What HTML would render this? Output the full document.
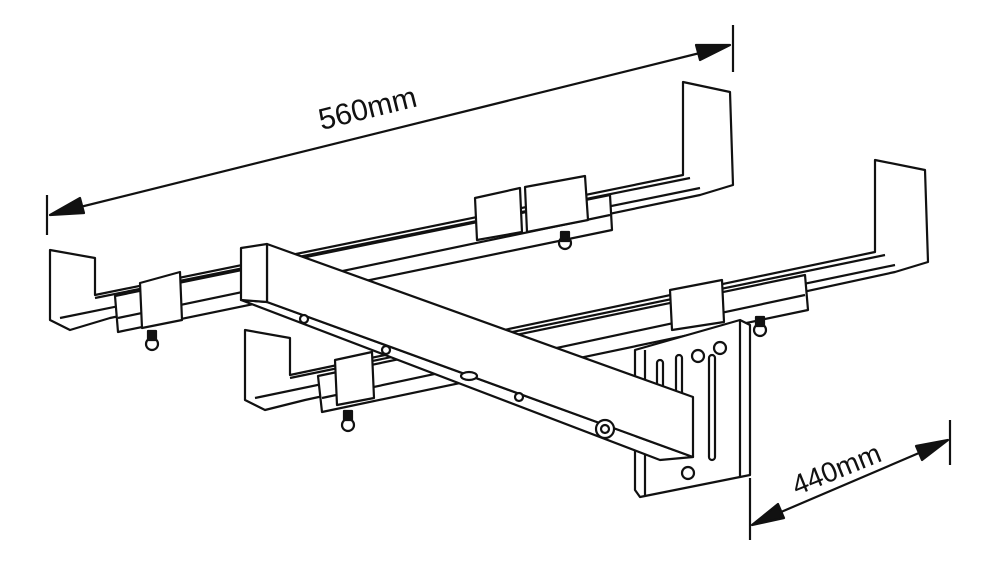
<!DOCTYPE html>
<html><head><style>html,body{margin:0;padding:0;background:#fff}svg{display:block}</style></head>
<body>
<svg width="1000" height="569" viewBox="0 0 1000 569" xmlns="http://www.w3.org/2000/svg" fill="#fff" stroke="#111" stroke-width="2.2" stroke-linejoin="round">
<!-- 560 dimension -->
<line x1="47" y1="195" x2="47" y2="235"/>
<line x1="733" y1="25" x2="733" y2="72"/>
<line x1="60" y1="212" x2="720" y2="48"/>
<polygon points="50,215 80,198 84,213" fill="#111"/>
<polygon points="730,45 700,60 696,45" fill="#111"/>
<text x="370" y="118" transform="rotate(-14 370 118)" font-family="Liberation Sans, sans-serif" font-size="30" fill="#111" stroke="none" text-anchor="middle">560mm</text>
<!-- 440 dimension -->
<line x1="750" y1="478" x2="750" y2="540"/>
<line x1="950" y1="420" x2="950" y2="465"/>
<line x1="760" y1="521" x2="940" y2="444"/>
<polygon points="752,525 778,504 784,518" fill="#111"/>
<polygon points="948,440 922,460 916,446" fill="#111"/>
<text x="840" y="478" transform="rotate(-22 840 478)" font-family="Liberation Sans, sans-serif" font-size="28" fill="#111" stroke="none" text-anchor="middle">440mm</text>
<!-- back rail -->
<polygon points="683,82 730,92 733,185 700,195 110,318 70,330 50,320 50,250 95,258 95,295 683,175"/>
<line x1="95" y1="298" x2="690" y2="178"/>
<line x1="60" y1="318" x2="700" y2="188"/>
<polygon points="115,296 610,195 612,230 118,332"/>
<line x1="118" y1="318" x2="610" y2="215"/>
<polygon points="475,198 520,188 522,232 477,240"/>
<polygon points="525,187 585,176 588,220 527,232"/>
<polygon points="140,283 180,272 182,320 142,328"/>
<circle cx="565" cy="243" r="6"/><rect x="561" y="232" width="8" height="9" fill="#111"/>
<circle cx="152" cy="344" r="6"/><rect x="148" y="331" width="8" height="9" fill="#111"/>
<!-- front rail -->
<polygon points="875,160 925,170 928,262 895,272 305,400 265,410 245,400 245,330 290,338 290,375 875,252"/>
<line x1="290" y1="378" x2="885" y2="255"/>
<line x1="255" y1="398" x2="895" y2="265"/>
<polygon points="318,376 805,275 808,310 322,412"/>
<line x1="322" y1="398" x2="805" y2="295"/>
<polygon points="670,290 722,280 724,322 672,330"/>
<polygon points="335,360 372,352 374,398 337,405"/>
<circle cx="760" cy="330" r="6"/><rect x="756" y="317" width="8" height="9" fill="#111"/>
<circle cx="348" cy="425" r="6"/><rect x="344" y="411" width="8" height="9" fill="#111"/>
<!-- plate -->
<polygon points="635,350 740,320 750,325 750,475 640,497 635,490"/>
<line x1="740" y1="320" x2="740" y2="476"/>
<line x1="645" y1="350" x2="645" y2="495"/>
<rect x="657" y="360" width="6" height="45" rx="3"/>
<rect x="676" y="355" width="6" height="48" rx="3"/>
<rect x="709" y="355" width="6" height="105" rx="3"/>
<circle cx="658" cy="455" r="3"/>
<circle cx="698" cy="356" r="6"/><circle cx="720" cy="348" r="6"/><circle cx="688" cy="473" r="6"/>
<!-- cross beam -->
<polygon points="241,300 267,302 693,457 660,460"/>
<polygon points="267,244 693,397 693,457 267,302"/>
<polygon points="241,248 267,244 267,302 241,300"/>
<circle cx="304" cy="319" r="4"/><circle cx="386" cy="350" r="4"/><circle cx="519" cy="397" r="4"/>
<ellipse cx="469" cy="376" rx="8" ry="4"/>
<circle cx="605" cy="429" r="9"/><circle cx="605" cy="429" r="4"/>
</svg>
</body></html>
